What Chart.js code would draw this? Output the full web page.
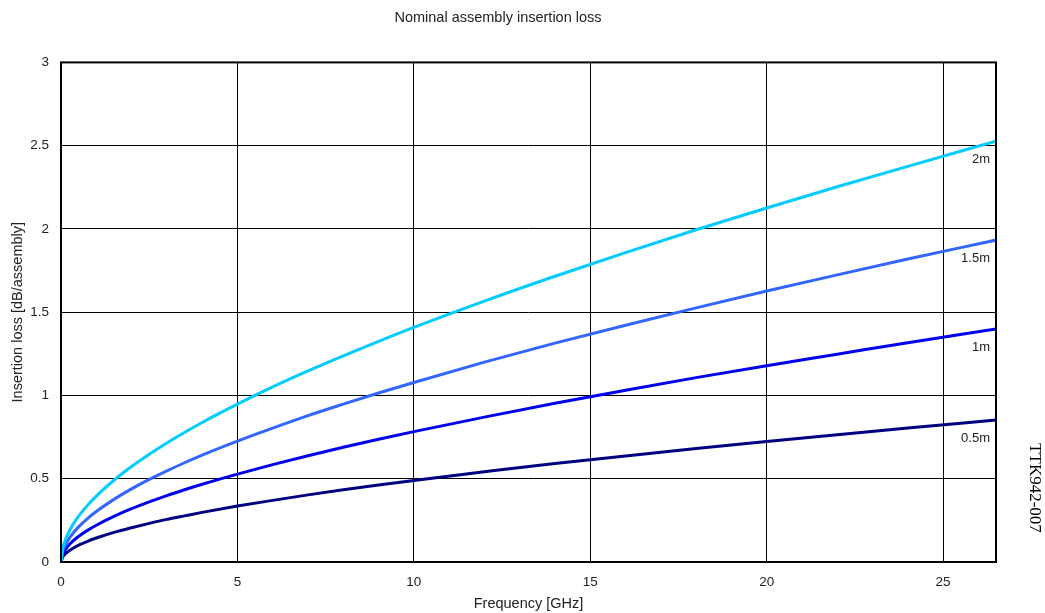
<!DOCTYPE html>
<html>
<head>
<meta charset="utf-8">
<script src="https://cdn.jsdelivr.net/npm/chart.js@4/dist/chart.umd.min.js"></script>
<style>
  html, body { margin: 0; padding: 0; background: #ffffff; }
  #wrap { width: 1045px; height: 613px; position: relative; }
</style>
</head>
<body>
<div id="wrap"><canvas id="c" width="1045" height="613"></canvas></div>
<script>
// Frequency points (GHz)
const freqGHz  = [0, 0.05, 0.1, 0.25, 0.5, 0.75, 1, 1.5, 2, 2.5, 3, 3.5, 4, 5, 6, 7, 8, 9, 10, 12, 14, 16, 18, 20, 22, 24, 26.5];
// Insertion loss (dB/assembly) per cable length
const loss2m   = [0, 0.084, 0.120, 0.192, 0.275, 0.340, 0.396, 0.491, 0.573, 0.647, 0.715, 0.778, 0.838, 0.948, 1.051, 1.147, 1.238, 1.325, 1.409, 1.567, 1.716, 1.858, 1.995, 2.126, 2.253, 2.376, 2.527];
const loss1_5m = [0, 0.065, 0.092, 0.147, 0.211, 0.261, 0.303, 0.376, 0.439, 0.496, 0.547, 0.596, 0.642, 0.726, 0.804, 0.879, 0.948, 1.015, 1.078, 1.200, 1.314, 1.422, 1.526, 1.627, 1.724, 1.819, 1.933];
const loss1m   = [0, 0.048, 0.067, 0.108, 0.154, 0.190, 0.221, 0.274, 0.320, 0.361, 0.399, 0.434, 0.467, 0.528, 0.585, 0.638, 0.689, 0.737, 0.783, 0.870, 0.953, 1.031, 1.107, 1.179, 1.248, 1.317, 1.399];
const loss0_5m = [0, 0.031, 0.044, 0.070, 0.101, 0.124, 0.144, 0.178, 0.206, 0.232, 0.256, 0.277, 0.298, 0.336, 0.370, 0.403, 0.434, 0.463, 0.490, 0.542, 0.592, 0.637, 0.682, 0.724, 0.764, 0.804, 0.852];
const seriesLabels = ['2m', '1.5m', '1m', '0.5m'];
const seriesColors = ['#00CCFF', '#3366FF', '#0000EE', '#000080'];
// Tick labels
const xTicks = [0, 5, 10, 15, 20, 25];
const yTicks = [0, 0.5, 1, 1.5, 2, 2.5, 3];
const chartTitle = 'Nominal assembly insertion loss';
const xTitle = 'Frequency [GHz]';
const yTitle = 'Insertion loss [dB/assembly]';
const docRef = 'TTK942-007';

const seriesValues = [loss2m, loss1_5m, loss1m, loss0_5m];
const toPoints = vals => freqGHz.map((f, i) => ({x: f, y: vals[i]}));

const SANS = '"Liberation Sans", Arial, sans-serif';

const decorPlugin = {
  id: 'decor',
  afterDatasetsDraw(chart) {
    const {ctx, chartArea, scales} = chart;
    ctx.save();
    // Frame
    ctx.strokeStyle = '#000';
    ctx.lineWidth = 2;
    ctx.strokeRect(chartArea.left, chartArea.top, chartArea.right - chartArea.left, chartArea.bottom - chartArea.top);
    // Series labels near the right end of each curve
    ctx.fillStyle = '#222';
    ctx.font = '13px ' + SANS;
    ctx.textAlign = 'right';
    ctx.textBaseline = 'middle';
    chart.data.datasets.forEach(ds => {
      const last = ds.data[ds.data.length - 1];
      const px = scales.x.getPixelForValue(last.x) - 6;
      const py = scales.y.getPixelForValue(last.y) + 18;
      ctx.fillText(ds.label, px, py);
    });
    ctx.restore();
  },
  afterDraw(chart) {
    const {ctx} = chart;
    ctx.save();
    ctx.translate(1034, 488);
    ctx.rotate(Math.PI / 2);
    ctx.fillStyle = '#000';
    ctx.font = '17px "Liberation Serif", "Times New Roman", serif';
    ctx.textAlign = 'center';
    ctx.textBaseline = 'middle';
    ctx.fillText(docRef, 0, 0);
    ctx.restore();
  }
};

new Chart(document.getElementById('c'), {
  type: 'line',
  data: {
    datasets: seriesValues.map((vals, i) => ({
      label: seriesLabels[i],
      data: toPoints(vals),
      borderColor: seriesColors[i],
      backgroundColor: seriesColors[i],
      borderWidth: 3,
      pointRadius: 0,
      cubicInterpolationMode: 'monotone',
      fill: false
    }))
  },
  options: {
    responsive: false,
    animation: false,
    layout: { padding: { left: 0, right: 49, top: 0, bottom: 0 } },
    plugins: {
      legend: { display: false },
      tooltip: { enabled: false },
      title: {
        display: true,
        text: chartTitle,
        color: '#222',
        font: { family: SANS, size: 14.5, weight: 'normal' },
        padding: { top: 9, bottom: 36 }
      }
    },
    scales: {
      x: {
        type: 'linear',
        min: 0,
        max: 26.5,
        afterBuildTicks: s => { s.ticks = xTicks.map(v => ({value: v})); },
        afterFit: s => { s.height = 51; },
        grid: { color: '#000', lineWidth: 1, drawTicks: false },
        border: { display: false },
        ticks: { color: '#222', font: { family: SANS, size: 13.5 }, padding: 12, maxRotation: 0,
                 callback: v => String(v) },
        title: { display: true, text: xTitle, color: '#222', font: { family: SANS, size: 14.5 }, padding: { top: 0, bottom: 0 } }
      },
      y: {
        type: 'linear',
        min: 0,
        max: 3,
        afterBuildTicks: s => { s.ticks = yTicks.map(v => ({value: v})); },
        afterFit: s => { s.width = 61; },
        grid: { color: '#000', lineWidth: 1, drawTicks: false },
        border: { display: false },
        ticks: { color: '#222', font: { family: SANS, size: 13.5 }, padding: 12,
                 callback: v => String(v) },
        title: { display: true, text: yTitle, color: '#222', font: { family: SANS, size: 14.5 }, padding: { top: 9, bottom: 0 } }
      }
    }
  },
  plugins: [decorPlugin]
});
</script>
</body>
</html>
